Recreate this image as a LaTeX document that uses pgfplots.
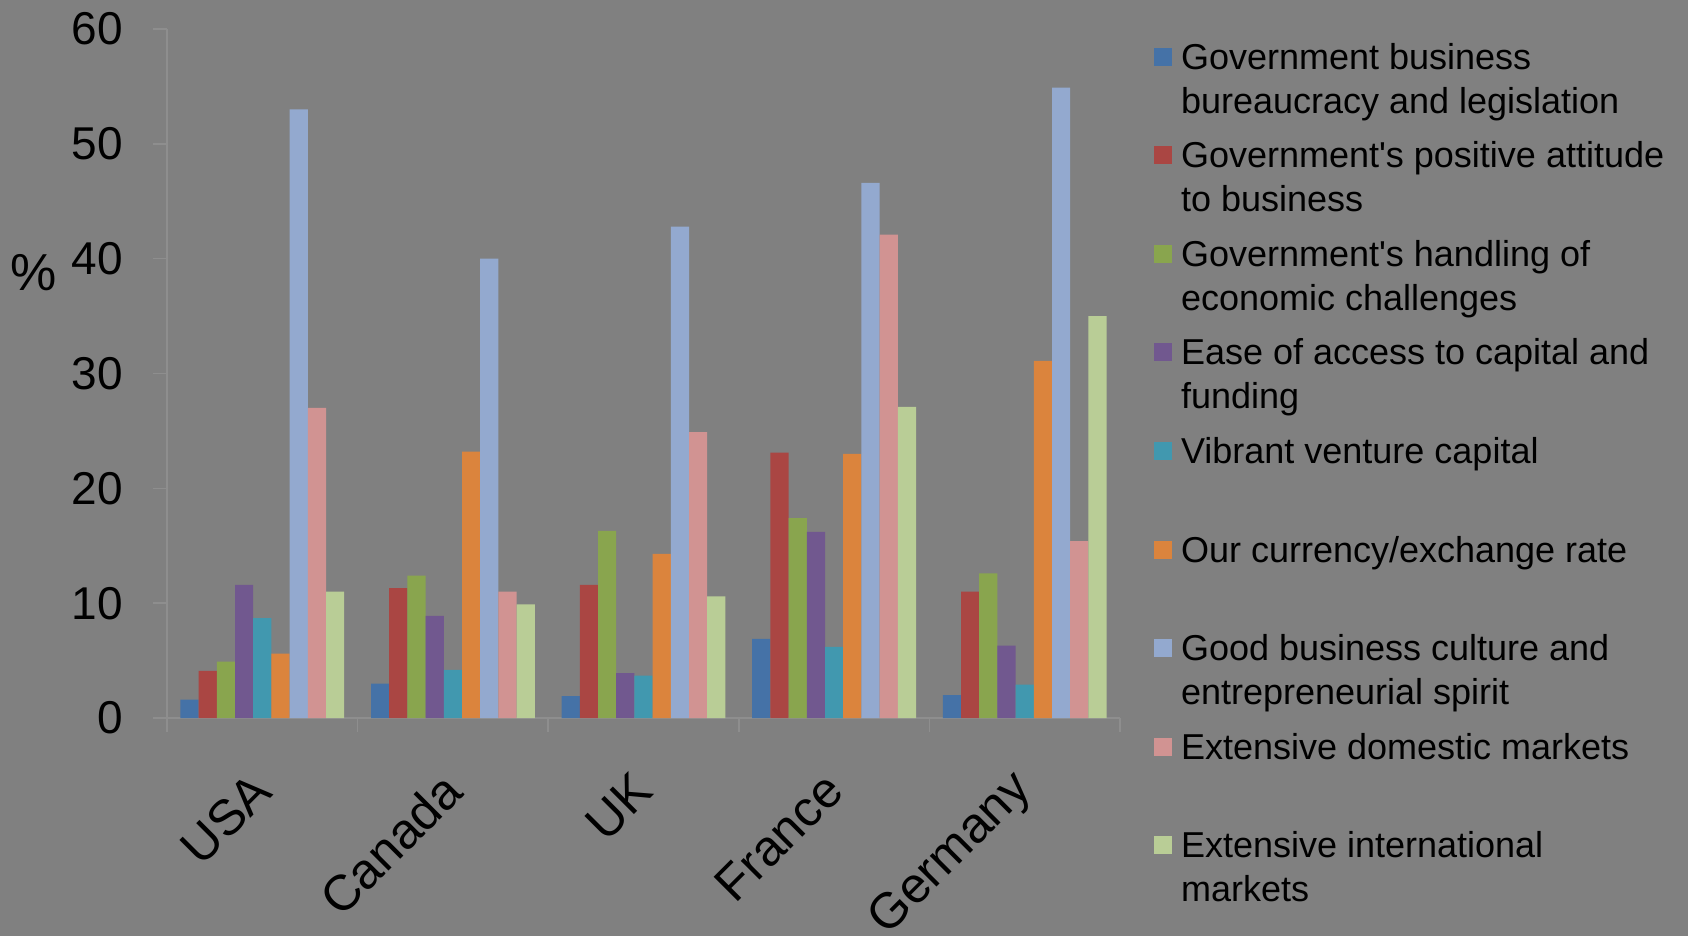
\documentclass[border=0pt]{standalone}
\usepackage{pgfplots}
\pgfplotsset{compat=1.18}
\usepackage{pgfplotstable}
\usepackage{fontspec}
\setmainfont{Liberation Sans}
\definecolor{bg}{RGB}{128,128,128}
\definecolor{axgray}{RGB}{142,142,142}
\definecolor{c1}{HTML}{4572A7}
\definecolor{c2}{HTML}{AA4643}
\definecolor{c3}{HTML}{89A54E}
\definecolor{c4}{HTML}{71588F}
\definecolor{c5}{HTML}{4198AF}
\definecolor{c6}{HTML}{DB843D}
\definecolor{c7}{HTML}{93A9CF}
\definecolor{c8}{HTML}{D19392}
\definecolor{c9}{HTML}{B9CD96}
\pgfplotstableread{
x s1 s2 s3 s4 s5 s6 s7 s8 s9
0 1.6 4.1 4.9 11.6 8.7 5.6 53.0 27.0 11.0
1 3.0 11.3 12.4 8.9 4.2 23.2 40.0 11.0 9.9
2 1.9 11.6 16.3 3.9 3.7 14.3 42.8 24.9 10.6
3 6.9 23.1 17.4 16.2 6.2 23.0 46.6 42.1 27.1
4 2.0 11.0 12.6 6.3 2.9 31.1 54.9 15.4 35.0
}\datatable
\newcommand{\entry}[1]{\parbox[t][49.3bp][t]{250bp}{\strut #1}}
\begin{document}
\begin{tikzpicture}
\fill[bg] (0,0) rectangle (844bp,468bp);
\useasboundingbox (0,0) rectangle (844bp,468bp);
\begin{axis}[
  at={(83.5bp,109bp)}, anchor=south west,
  scale only axis, width=476.5bp, height=344.5bp,
  xmin=-0.5, xmax=4.5, ymin=0, ymax=60,
  enlargelimits=false,
  axis lines*=left,
  axis line style={draw=axgray, line width=0.8bp},
  tick style={draw=axgray, line width=0.8bp},
  tick align=outside,
  ybar=0pt, bar width=9.1bp,
  ytick={0,10,...,60},
  major tick length=7bp,
  minor tick length=7bp,
  /pgf/number format/assume math mode=true,
  yticklabel style={font=\fontsize{23bp}{27bp}\selectfont, inner sep=0pt, xshift=-15bp},
  xtick={0,1,2,3,4},
  xticklabels={USA,Canada,UK,France,Germany},
  major x tick style={draw=none},
  minor xtick={-0.5,0.5,1.5,2.5,3.5,4.5},
  minor x tick style={draw=axgray, line width=0.8bp},
  xticklabel style={font=\fontsize{25bp}{29bp}\selectfont, inner sep=0pt, yshift=-25bp, rotate=45, anchor=east},
  ylabel={\%},
  ylabel style={font=\fontsize{26bp}{30bp}\selectfont, rotate=-90},
  every axis y label/.append style={at={(axis description cs:-0.140,0.647)}, anchor=center},
  legend cell align=left,
  legend image code/.code={\fill[#1] (0bp,1.8bp) rectangle (9bp,10.8bp);},
  legend style={at={(axis description cs:1.0357,0.9864)}, anchor=north west,
    draw=none, fill=none, inner sep=0pt, outer sep=0pt, row sep=0pt, column sep=4.5bp,
    font=\fontsize{18bp}{22bp}\selectfont,
    cells={anchor=base west},
    nodes={inner sep=0pt, text depth=}},
]
\addplot[fill=c1, draw=none] table[x=x,y=s1]{\datatable};
\addplot[fill=c2, draw=none] table[x=x,y=s2]{\datatable};
\addplot[fill=c3, draw=none] table[x=x,y=s3]{\datatable};
\addplot[fill=c4, draw=none] table[x=x,y=s4]{\datatable};
\addplot[fill=c5, draw=none] table[x=x,y=s5]{\datatable};
\addplot[fill=c6, draw=none] table[x=x,y=s6]{\datatable};
\addplot[fill=c7, draw=none] table[x=x,y=s7]{\datatable};
\addplot[fill=c8, draw=none] table[x=x,y=s8]{\datatable};
\addplot[fill=c9, draw=none] table[x=x,y=s9]{\datatable};
\addlegendentry{\entry{Government business\\bureaucracy and legislation}}
\addlegendentry{\entry{Government\textquotesingle s positive attitude\\to business}}
\addlegendentry{\entry{Government\textquotesingle s handling of\\economic challenges}}
\addlegendentry{\entry{Ease of access to capital and\\funding}}
\addlegendentry{\entry{Vibrant venture capital}}
\addlegendentry{\entry{Our currency/exchange rate}}
\addlegendentry{\entry{Good business culture and\\entrepreneurial spirit}}
\addlegendentry{\entry{Extensive domestic markets}}
\addlegendentry{\entry{Extensive international\\markets}}
\end{axis}
\end{tikzpicture}
\end{document}
